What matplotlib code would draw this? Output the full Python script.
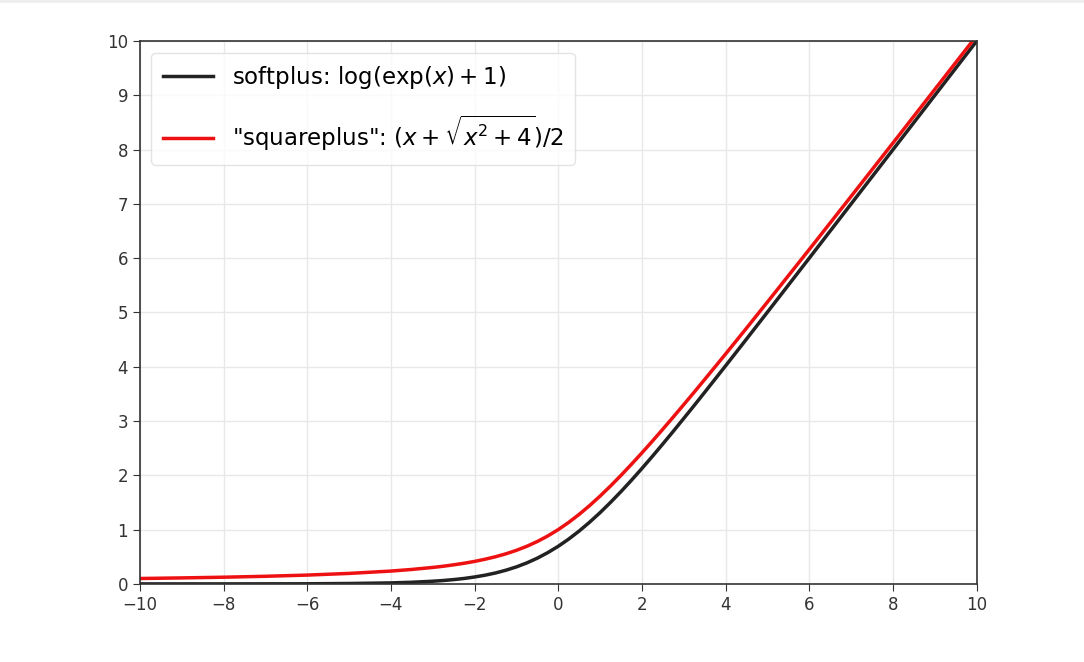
import matplotlib
matplotlib.use("Agg")
import matplotlib.pyplot as plt
from matplotlib.patches import Rectangle

# points
x = [-10, -9, -8, -7, -6, -5, -4, -3.5, -3, -2.75, -2.5, -2.25, -2, -1.75,
     -1.5, -1.25, -1, -0.75, -0.5, -0.25, 0, 0.25, 0.5, 0.75, 1, 1.25, 1.5,
     1.75, 2, 2.25, 2.5, 2.75, 3, 3.25, 3.5, 4, 4.5, 5, 6, 7, 8, 9, 10]
softplus = [0.000, 0.000, 0.000, 0.001, 0.002, 0.007, 0.018, 0.030, 0.049,
            0.062, 0.079, 0.100, 0.127, 0.160, 0.201, 0.252, 0.313, 0.387,
            0.474, 0.576, 0.693, 0.826, 0.974, 1.137, 1.313, 1.502, 1.701,
            1.910, 2.127, 2.350, 2.579, 2.812, 3.049, 3.288, 3.530, 4.018,
            4.511, 5.007, 6.002, 7.001, 8.000, 9.000, 10.000]
squareplus = [0.099, 0.110, 0.123, 0.140, 0.162, 0.193, 0.236, 0.266, 0.303,
              0.325, 0.351, 0.380, 0.414, 0.454, 0.500, 0.554, 0.618, 0.693,
              0.781, 0.883, 1.000, 1.133, 1.281, 1.443, 1.618, 1.804, 2.000,
              2.204, 2.414, 2.630, 2.851, 3.075, 3.303, 3.533, 3.766, 4.236,
              4.712, 5.193, 6.162, 7.140, 8.123, 9.110, 10.099]

xticks = [-10, -8, -6, -4, -2, 0, 2, 4, 6, 8, 10]
yticks = list(range(0, 11))

fig = plt.figure(figsize=(10.84, 6.62), dpi=100)
ax = fig.add_axes([0.129, 0.118, 0.772, 0.820])

ax.plot(x, softplus, color="#222222", lw=2.5, label=r"softplus: $\log(\exp(x)+1)$")
ax.plot(x, squareplus, color="#ee1111", lw=2.5,
        label=r'"squareplus": $(x+\sqrt{x^2+4})/2$')

ax.set_xlim(-10, 10)
ax.set_ylim(0, 10)
ax.set_xticks(xticks)
ax.set_yticks(yticks)
ax.grid(True, color="#e8e8e8", lw=1)
ax.set_axisbelow(True)
ax.tick_params(labelsize=12, colors="#333333", length=5)
for s in ax.spines.values():
    s.set_color("#333333")
    s.set_linewidth(1.2)

leg = ax.legend(loc="upper left", fontsize=16.5, borderpad=0.5, labelspacing=1.0,
                handlelength=2.2, borderaxespad=0.5)
leg.get_frame().set_edgecolor("#dddddd")

# thin grey band along the top of the screenshot
fig.add_artist(Rectangle((0, 0.995), 1, 0.005, transform=fig.transFigure,
                         color="#eeeeee", lw=0))

fig.savefig("out.png", dpi=100)
